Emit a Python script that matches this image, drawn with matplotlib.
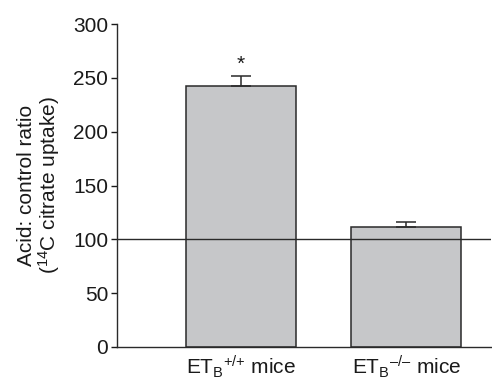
import matplotlib
matplotlib.use("Agg")
import matplotlib.pyplot as plt

plt.rcParams['font.family'] = ['Liberation Sans', 'DejaVu Sans']
plt.rcParams['mathtext.fontset'] = 'custom'
plt.rcParams['mathtext.rm'] = 'Liberation Sans'
plt.rcParams['mathtext.it'] = 'Liberation Sans'

groups = ['ET$_\\mathregular{B}$$^\\mathregular{{+}/{+}}$ mice',
          'ET$_\\mathregular{B}$$^\\mathregular{{\u2013}/{\u2013}}$ mice']
ratios = [242, 111]
sem = [10, 5]
marks = ['*', '']
yticks = [0, 50, 100, 150, 200, 250, 300]
control_level = 100

fig = plt.figure(figsize=(4.92, 3.79), dpi=100)
ax = fig.add_axes([116.7 / 492, 1 - 347 / 379, (491 - 116.7) / 492, (347 - 24) / 379])

x = list(range(len(groups)))
ax.bar(x, ratios, width=0.667, color='#c6c7c9', edgecolor='#2a2a2a', linewidth=1.1, zorder=2)
ax.errorbar(x, ratios, yerr=[[0] * len(sem), sem], fmt='none', ecolor='#2a2a2a',
            elinewidth=1.1, capsize=7, capthick=1.1, zorder=3)
ax.axhline(control_level, color='#2a2a2a', linewidth=1.0, zorder=4)

for xi, v, e, m in zip(x, ratios, sem, marks):
    if m:
        ax.text(xi, v + e + 2, m, ha='center', va='bottom', fontsize=15, color='#1a1a1a')

ax.set_xlim(-0.752, 1.513)
ax.set_ylim(0, 300)
ax.set_yticks(yticks)
ax.set_xticks(x)
ax.set_xticklabels(groups, fontsize=15, color='#1a1a1a')
ax.tick_params(axis='x', length=0, pad=5)
ax.tick_params(axis='y', length=4, width=1, labelsize=15, pad=2, colors='#1a1a1a')
for s in ['top', 'right']:
    ax.spines[s].set_visible(False)
for s in ['left', 'bottom']:
    ax.spines[s].set_color('#2a2a2a')
    ax.spines[s].set_linewidth(1.0)

ax.set_ylabel('Acid: control ratio\n($^\\mathregular{14}$C citrate uptake)', fontsize=15,
              linespacing=1.0, labelpad=8, color='#1a1a1a')

fig.savefig('out.png', dpi=100)
